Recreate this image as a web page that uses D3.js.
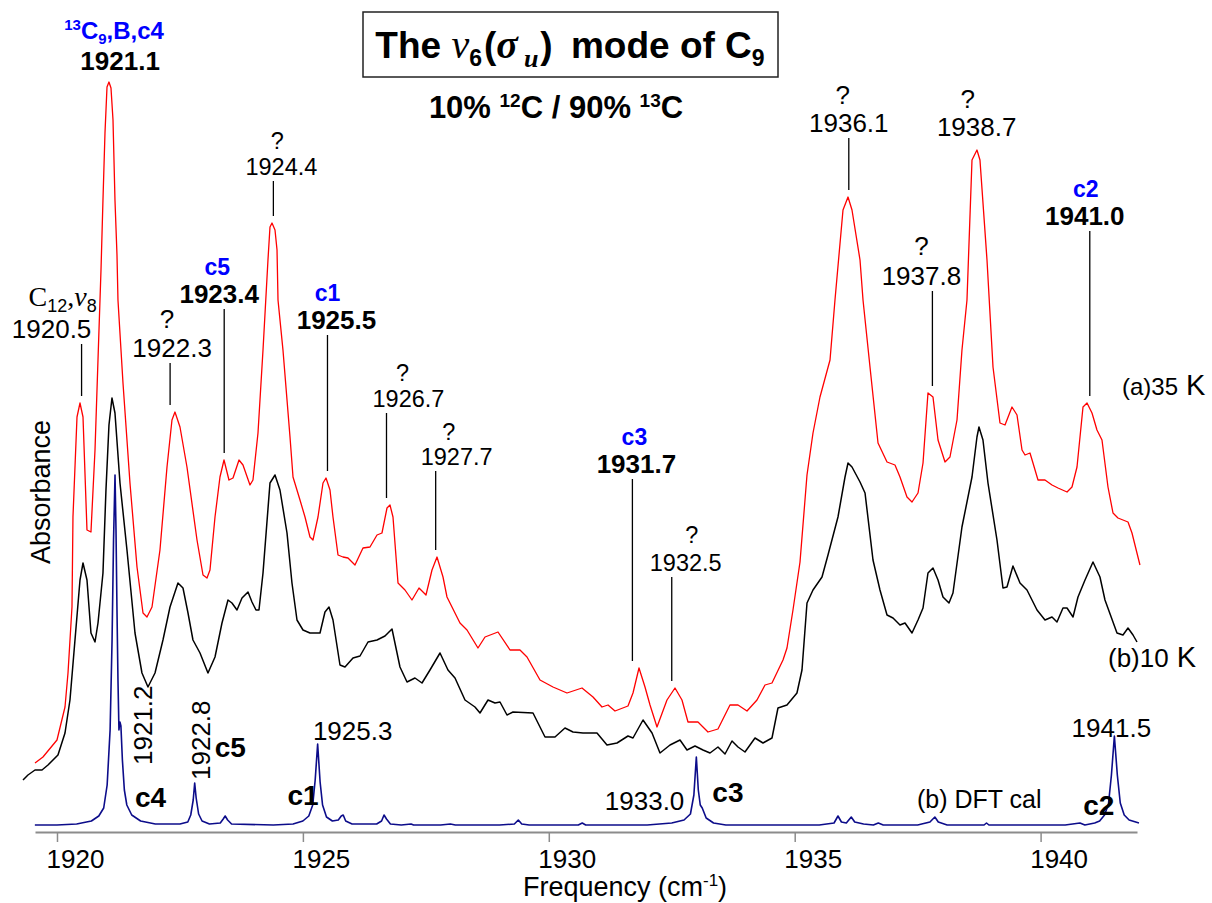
<!DOCTYPE html>
<html>
<head>
<meta charset="utf-8">
<script src="https://cdn.jsdelivr.net/npm/d3@7"></script>
<style>
  body { margin: 0; background: #fff; }
  svg { display: block; font-family: "Liberation Sans", Arial, Helvetica, sans-serif; }
</style>
</head>
<body>
<svg id="chart" width="1212" height="903"></svg>
<script>
// ---- Spectra: [wavenumber (cm-1), absorbance (arb. units)] ----
const spec35K = [
  [1919.553,67],[1919.715,73],[1920.000,90],[1920.163,123],[1920.224,157],[1920.305,223],[1920.325,313],[1920.407,413],[1920.468,427],[1920.529,413],[1920.610,300],[1920.691,298],[1920.773,380],[1920.854,500],[1920.895,560],[1920.935,630],[1920.976,697],[1921.017,743],[1921.057,748],[1921.098,742],[1921.139,710],[1921.179,630],[1921.220,575],[1921.240,530],[1921.342,447],[1921.484,347],[1921.627,263],[1921.749,217],[1921.830,213],[1921.932,223],[1922.094,280],[1922.237,363],[1922.338,410],[1922.399,418],[1922.501,403],[1922.643,363],[1922.847,290],[1922.969,255],[1923.050,252],[1923.111,260],[1923.213,313],[1923.314,353],[1923.396,370],[1923.497,350],[1923.579,352],[1923.701,370],[1923.782,365],[1923.924,345],[1923.985,350],[1924.087,397],[1924.189,480],[1924.290,570],[1924.331,603],[1924.372,607],[1924.433,600],[1924.474,580],[1924.494,530],[1924.595,480],[1924.738,393],[1924.799,353],[1924.941,330],[1925.043,313],[1925.144,293],[1925.205,290],[1925.307,313],[1925.409,347],[1925.470,352],[1925.551,340],[1925.612,313],[1925.714,275],[1925.815,273],[1925.917,272],[1926.059,265],[1926.222,282],[1926.364,283],[1926.507,295],[1926.608,297],[1926.710,322],[1926.771,325],[1926.832,313],[1926.934,247],[1927.076,240],[1927.218,230],[1927.361,242],[1927.503,235],[1927.625,260],[1927.727,273],[1927.849,253],[1927.930,233],[1928.194,207],[1928.337,200],[1928.560,182],[1928.703,193],[1928.967,198],[1929.211,180],[1929.414,180],[1929.557,173],[1929.821,150],[1930.085,143],[1930.370,137],[1930.675,142],[1930.899,133],[1931.082,123],[1931.204,125],[1931.346,119],[1931.610,124],[1931.712,137],[1931.834,162],[1931.956,143],[1932.058,125],[1932.200,103],[1932.403,130],[1932.566,142],[1932.708,130],[1932.830,108],[1933.033,108],[1933.237,98],[1933.440,101],[1933.684,125],[1933.847,125],[1934.030,119],[1934.233,130],[1934.396,145],[1934.538,147],[1934.762,170],[1934.843,182],[1934.965,220],[1935.108,268],[1935.250,355],[1935.372,397],[1935.514,433],[1935.718,470],[1935.819,530],[1935.982,620],[1936.084,633],[1936.165,620],[1936.328,570],[1936.389,530],[1936.531,463],[1936.694,387],[1936.877,368],[1937.039,365],[1937.141,353],[1937.283,333],[1937.385,328],[1937.507,337],[1937.609,367],[1937.710,437],[1937.812,433],[1937.914,390],[1938.056,368],[1938.157,373],[1938.300,410],[1938.401,480],[1938.503,530],[1938.605,670],[1938.706,680],[1938.767,670],[1938.910,570],[1939.032,463],[1939.174,407],[1939.276,405],[1939.418,423],[1939.520,415],[1939.622,380],[1939.683,375],[1939.784,377],[1939.845,367],[1939.947,350],[1940.089,350],[1940.232,345],[1940.354,342],[1940.537,338],[1940.638,343],[1940.740,363],[1940.862,423],[1940.944,427],[1941.045,417],[1941.146,400],[1941.248,390],[1941.370,343],[1941.472,317],[1941.573,312],[1941.777,308],[1941.858,297],[1942.020,265]
];

const spec10K = [
  [1919.309,50],[1919.410,55],[1919.553,60],[1919.695,60],[1919.817,65],[1920.020,75],[1920.163,97],[1920.264,130],[1920.366,190],[1920.468,250],[1920.529,267],[1920.610,250],[1920.691,197],[1920.773,188],[1920.834,207],[1920.935,257],[1920.996,340],[1921.057,405],[1921.118,432],[1921.179,417],[1921.281,347],[1921.423,280],[1921.586,197],[1921.728,157],[1921.850,143],[1921.993,157],[1922.155,190],[1922.298,223],[1922.460,247],[1922.562,242],[1922.664,217],[1922.765,190],[1922.908,177],[1923.070,157],[1923.213,173],[1923.355,207],[1923.477,230],[1923.558,227],[1923.660,220],[1923.762,232],[1923.884,238],[1923.965,228],[1924.046,220],[1924.107,220],[1924.189,257],[1924.331,347],[1924.433,355],[1924.534,340],[1924.677,297],[1924.778,247],[1924.880,210],[1925.002,200],[1925.144,197],[1925.348,197],[1925.449,218],[1925.531,223],[1925.612,210],[1925.754,165],[1925.856,163],[1926.019,172],[1926.161,174],[1926.324,188],[1926.507,190],[1926.669,194],[1926.812,201],[1926.974,163],[1927.117,148],[1927.279,152],[1927.422,147],[1927.584,160],[1927.788,177],[1927.950,160],[1928.093,152],[1928.296,130],[1928.499,123],[1928.601,117],[1928.764,130],[1928.906,127],[1929.008,128],[1929.150,115],[1929.272,118],[1929.679,117],[1929.821,103],[1929.923,93],[1930.126,93],[1930.329,102],[1930.492,98],[1930.695,97],[1930.980,97],[1931.183,85],[1931.387,87],[1931.610,94],[1931.712,92],[1931.916,110],[1932.099,97],[1932.261,77],[1932.465,85],[1932.668,90],[1932.810,80],[1932.973,84],[1933.135,80],[1933.278,77],[1933.440,83],[1933.583,76],[1933.725,89],[1933.847,83],[1933.989,78],[1934.193,92],[1934.355,87],[1934.538,92],[1934.660,122],[1934.843,125],[1935.046,137],[1935.148,160],[1935.250,227],[1935.372,240],[1935.555,253],[1935.677,275],[1935.880,313],[1936.023,353],[1936.084,367],[1936.165,363],[1936.328,348],[1936.430,337],[1936.592,270],[1936.734,240],[1936.877,215],[1936.999,212],[1937.141,205],[1937.243,207],[1937.385,197],[1937.507,210],[1937.609,222],[1937.710,257],[1937.812,262],[1937.914,250],[1938.015,233],[1938.137,227],[1938.218,237],[1938.401,303],[1938.605,353],[1938.706,393],[1938.747,403],[1938.828,390],[1938.930,347],[1939.113,290],[1939.235,242],[1939.316,243],[1939.438,264],[1939.581,247],[1939.723,240],[1939.927,220],[1940.089,210],[1940.232,213],[1940.333,208],[1940.455,222],[1940.537,222],[1940.659,213],[1940.760,233],[1940.903,250],[1941.065,268],[1941.207,253],[1941.309,230],[1941.553,197],[1941.675,195],[1941.777,202],[1941.879,195],[1941.960,188]
];

// DFT-calculated spectrum, same abscissa
const dftCal = [
  [1919.55,5],[1920.0,5],[1920.4,6],[1920.7,9],[1920.85,14],[1920.95,22],[1921.02,45],[1921.08,100],[1921.12,190],[1921.15,290],[1921.18,355],[1921.2,300],[1921.22,220],[1921.24,150],[1921.26,100],[1921.28,108],[1921.3,104],[1921.33,70],[1921.37,40],[1921.42,25],[1921.52,15],[1921.7,9],[1922.0,6],[1922.5,6],[1922.66,8],[1922.72,15],[1922.77,30],[1922.8,47],[1922.83,32],[1922.88,16],[1922.95,9],[1923.1,6],[1923.32,7],[1923.38,11],[1923.42,14],[1923.47,10],[1923.55,6],[1924.4,5],[1924.8,6],[1925.0,9],[1925.12,14],[1925.2,25],[1925.25,50],[1925.3,86],[1925.35,48],[1925.4,25],[1925.48,13],[1925.6,9],[1925.72,10],[1925.78,14],[1925.82,15],[1925.87,9],[1926.0,6],[1926.5,6],[1926.6,9],[1926.65,15],[1926.7,11],[1926.78,6],[1927.0,5],[1927.2,6],[1927.25,5],[1927.8,5],[1928.0,6],[1928.1,5],[1929.0,5],[1929.3,6],[1929.38,10],[1929.45,6],[1929.6,5],[1930.6,5],[1930.68,7],[1930.75,5],[1932.0,5],[1932.5,7],[1932.75,10],[1932.88,16],[1932.95,35],[1933.0,73],[1933.04,40],[1933.08,25],[1933.12,22],[1933.2,12],[1933.35,7],[1933.6,5],[1935.5,5],[1935.8,7],[1935.88,14],[1935.95,8],[1936.05,7],[1936.15,13],[1936.22,8],[1936.4,6],[1936.6,5],[1936.7,7],[1936.8,5],[1937.5,5],[1937.75,8],[1937.85,13],[1937.92,8],[1938.1,5],[1938.85,5],[1938.9,7],[1938.95,5],[1940.5,5],[1940.8,7],[1940.9,5],[1941.1,7],[1941.2,9],[1941.3,15],[1941.38,26],[1941.44,55],[1941.5,94],[1941.56,55],[1941.62,27],[1941.7,15],[1941.8,10],[1942.0,7]
];

const tickValues = [1920, 1925, 1930, 1935, 1940];

// Observed bands (35 K trace) and their site assignments
const bandFreqs = [1920.5, 1921.1, 1922.3, 1923.4, 1924.4, 1925.5, 1926.7, 1927.7, 1931.7, 1932.5, 1936.1, 1937.8, 1938.7, 1941.0];
const bandSites = ["C12,v8", "13C9,B,c4", "?", "c5", "?", "c1", "?", "?", "c3", "?", "?", "?", "?", "c2"];

// DFT-calculated bands and sites
const dftFreqs = [1921.2, 1922.8, 1925.3, 1933.0, 1941.5];
const dftSites = ["c4", "c5", "c1", "c3", "c2"];

// ---- Scales ----
const svg = d3.select("#chart");
const x = d3.scaleLinear().domain([1919.553, 1941.96]).range([35, 1137]);
const y = d3.scaleLinear().domain([0, 760]).range([830, 70]);

// ---- Text helper: runs of tspans with sub/superscript shifts ----
function rich(parent, parts, attrs) {
  const t = parent.append("text");
  Object.entries(attrs).forEach(([k, v]) => t.attr(k, v));
  let cur = 0;
  parts.forEach(p => {
    const s = t.append("tspan").text(p.t);
    const shift = p.shift || 0;
    if (shift !== cur) { s.attr("dy", shift - cur); cur = shift; }
    if (p.dx) s.attr("dx", p.dx);
    if (p.size) s.attr("font-size", p.size);
    if (p.family) s.attr("font-family", p.family);
    if (p.style) s.attr("font-style", p.style);
    if (p.weight) s.attr("font-weight", p.weight);
    if (p.fill) s.attr("fill", p.fill);
  });
  return t;
}
const SERIF = "'Liberation Serif', 'Times New Roman', serif";

// ---- Title box ----
svg.append("rect").attr("x", 363).attr("y", 12).attr("width", 415).attr("height", 65)
  .attr("fill", "#fff").attr("stroke", "#222").attr("stroke-width", 1.5);
rich(svg, [
  { t: "The " },
  { t: "\u03BD", family: SERIF, style: "italic", weight: "normal", size: 40 },
  { t: "6", size: 23, shift: 8 },
  { t: "(", dx: 2 },
  { t: "\u03C3", family: SERIF, style: "italic", size: 40 },
  { t: "u", family: SERIF, style: "italic", size: 26, shift: 9, dx: 6 },
  { t: ")", dx: 2 },
  { t: " mode of C", dx: 8 },
  { t: "9", size: 23, shift: 8 }
], { x: 570, y: 58, "text-anchor": "middle", "font-size": 37, "font-weight": "bold", fill: "#000" });

rich(svg, [
  { t: "10% " },
  { t: "12", size: 19, shift: -11 },
  { t: "C / 90% " },
  { t: "13", size: 19, shift: -11 },
  { t: "C" }
], { x: 556, y: 118, "text-anchor": "middle", "font-size": 31, "font-weight": "bold", fill: "#000" });

// ---- X axis ----
const axisG = svg.append("g").attr("transform", "translate(0,832)")
  .call(d3.axisBottom(x).tickValues(tickValues).tickSize(10).tickSizeOuter(0).tickFormat(d3.format("d")));
axisG.select(".domain").attr("stroke", "#8c8c8c").attr("stroke-width", 2);
axisG.selectAll(".tick line").attr("stroke", "#8c8c8c").attr("stroke-width", 1.5);
axisG.selectAll(".tick text").attr("y", 36).attr("dy", 0).attr("dx", 18)
  .attr("font-size", 26).attr("font-family", "'Liberation Sans', Arial, sans-serif").attr("fill", "#000");

rich(svg, [
  { t: "Frequency (cm" },
  { t: "-1", size: 17, shift: -10 },
  { t: ")" }
], { x: 625, y: 896, "text-anchor": "middle", "font-size": 27, fill: "#000" });

svg.append("text").attr("transform", "translate(50,492) rotate(-90)")
  .attr("text-anchor", "middle").attr("font-size", 27).attr("fill", "#000").text("Absorbance");

// ---- Traces ----
const line = d3.line().x(d => x(d[0])).y(d => y(d[1]));
svg.append("path").datum(spec35K).attr("d", line)
  .attr("fill", "none").attr("stroke", "#ff0000").attr("stroke-width", 1.3).attr("stroke-linejoin", "round");
svg.append("path").datum(spec10K).attr("d", line)
  .attr("fill", "none").attr("stroke", "#000").attr("stroke-width", 1.5).attr("stroke-linejoin", "round");
svg.append("path").datum(dftCal).attr("d", line)
  .attr("fill", "none").attr("stroke", "#0c0c8a").attr("stroke-width", 1.6).attr("stroke-linejoin", "round");

// ---- Trace labels ----
rich(svg, [{ t: "(a)35" }, { t: " K", size: 29 }], { x: 1122, y: 395, "font-size": 24, fill: "#000" });
rich(svg, [{ t: "(b)10" }, { t: " K", size: 29 }], { x: 1108, y: 667, "font-size": 26, fill: "#000" });
svg.append("text").attr("x", 917).attr("y", 808).attr("font-size", 25).attr("fill", "#000").text("(b) DFT cal");

// ---- Band annotations on the 35 K trace ----
// label centre offset (dx), baseline (y), font size, leader line flag, site label offset/baseline
const bandLayout = [
  { dx: -30, y: 338, size: 26,   lead: true,  sdx: -19, sy: 306 },
  { dx: 9,   y: 70,  size: 26,   lead: false, sdx: 3,   sy: 39 },
  { dx: 2,   y: 357, size: 26,   lead: true,  sdx: -3,  sy: 328 },
  { dx: -5,  y: 303, size: 26,   lead: true,  sdx: -7,  sy: 275 },
  { dx: 8,   y: 175, size: 23.5, lead: true,  sdx: 4,   sy: 149 },
  { dx: 9,   y: 329, size: 26,   lead: true,  sdx: 0,   sy: 301 },
  { dx: 22,  y: 407, size: 23.5, lead: true,  sdx: 16,  sy: 381 },
  { dx: 21,  y: 465, size: 23.5, lead: true,  sdx: 13,  sy: 440 },
  { dx: 4,   y: 473, size: 26,   lead: true,  sdx: 2,   sy: 445 },
  { dx: 14,  y: 571, size: 23.5, lead: true,  sdx: 20,  sy: 543 },
  { dx: 0,   y: 132, size: 26,   lead: true,  sdx: -6,  sy: 104 },
  { dx: -11, y: 285, size: 26,   lead: true,  sdx: -11, sy: 255 },
  { dx: 0,   y: 136, size: 26,   lead: false, sdx: -9,  sy: 108 },
  { dx: -5,  y: 225, size: 26,   lead: true,  sdx: -4,  sy: 197 }
];

function peakNear(series, f, w) {
  return d3.max(series.filter(d => Math.abs(d[0] - f) <= w), d => d[1]);
}

const annG = svg.append("g");
bandFreqs.forEach((f, i) => {
  const L = bandLayout[i];
  const site = bandSites[i];
  const px = x(f);
  const assigned = /^c\d$/.test(site) || site.startsWith("13C");
  annG.append("text")
    .attr("x", px + L.dx).attr("y", L.y)
    .attr("text-anchor", "middle").attr("font-size", L.size)
    .attr("font-weight", assigned ? "bold" : "normal").attr("fill", "#000")
    .text(f.toFixed(1));

  if (site === "?") {
    annG.append("text").attr("x", px + L.sdx).attr("y", L.sy)
      .attr("text-anchor", "middle").attr("font-size", L.size).attr("fill", "#000").text("?");
  } else if (site.startsWith("13C")) {
    rich(annG, [
      { t: "13", size: 15, shift: -9 },
      { t: "C" },
      { t: "9", size: 15, shift: 5 },
      { t: ",B,c4" }
    ], { x: px + L.sdx, y: L.sy, "text-anchor": "middle", "font-size": 24, "font-weight": "bold", fill: "#0000ff" });
  } else if (site.startsWith("C12")) {
    rich(annG, [
      { t: "C", family: SERIF, size: 28 },
      { t: "12", size: 18, shift: 6 },
      { t: ",", family: SERIF, size: 28, shift: 0 },
      { t: "\u03BD", family: SERIF, style: "italic", size: 28 },
      { t: "8", size: 18, shift: 6 }
    ], { x: px + L.sdx, y: L.sy, "text-anchor": "middle", "font-size": 26, fill: "#000" });
  } else {
    annG.append("text").attr("x", px + L.sdx).attr("y", L.sy)
      .attr("text-anchor", "middle").attr("font-size", 23).attr("font-weight", "bold")
      .attr("fill", "#0000ff").text(site);
  }

  if (L.lead) {
    const top = L.y + 6;
    const bottom = y(peakNear(spec35K, f, 0.15)) - 7;
    annG.append("line").attr("x1", px).attr("x2", px).attr("y1", top).attr("y2", bottom)
      .attr("stroke", "#000").attr("stroke-width", 1.3);
  }
});

// ---- DFT band labels ----
const dftLayout = [
  { num: { dx: 36, y: 765, rot: true },          site: { dx: 19, y: 807, anchor: "start" } },
  { num: { dx: 15, y: 780, rot: true },          site: { dx: 20, y: 757, anchor: "start" } },
  { num: { dx: 35, y: 740, anchor: "middle" },   site: { dx: 1,  y: 805, anchor: "end" } },
  { num: { dx: -12, y: 810, anchor: "end" },     site: { dx: 16, y: 802, anchor: "start" } },
  { num: { dx: -3, y: 737, anchor: "middle" },   site: { dx: 0,  y: 815, anchor: "end" } }
];
dftFreqs.forEach((f, i) => {
  const L = dftLayout[i];
  const px = x(f);
  const t = svg.append("text").attr("font-size", 26).attr("fill", "#000").text(f.toFixed(1));
  if (L.num.rot) {
    t.attr("transform", `translate(${px + L.num.dx},${L.num.y}) rotate(-90)`).attr("text-anchor", "start");
  } else {
    t.attr("x", px + L.num.dx).attr("y", L.num.y).attr("text-anchor", L.num.anchor);
  }
  svg.append("text").attr("x", px + L.site.dx).attr("y", L.site.y)
    .attr("text-anchor", L.site.anchor).attr("font-size", 28).attr("font-weight", "bold")
    .attr("fill", "#000").text(dftSites[i]);
});
</script>
</body>
</html>
